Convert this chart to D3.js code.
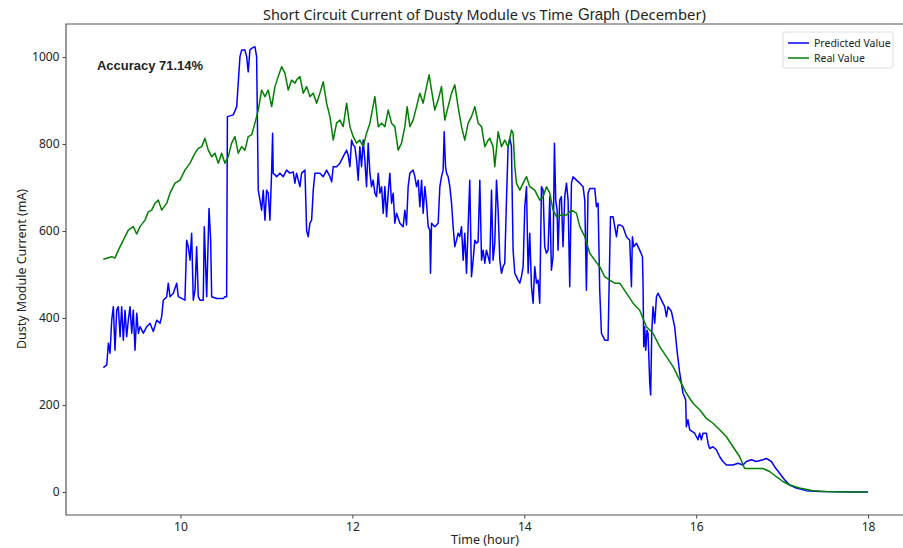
<!DOCTYPE html>
<html>
<head>
<meta charset="utf-8">
<script src="https://cdn.jsdelivr.net/npm/d3@7"></script>
<style>
  body { margin: 0; background: #fff; }
  svg text { font-family: "Noto Sans", "DejaVu Sans", sans-serif; fill: #222; }
</style>
</head>
<body>
<div id="chart"></div>
<script>
// real (measured) short circuit current
const realHours = [9.102, 9.200, 9.238, 9.277, 9.355, 9.393, 9.451, 9.491, 9.529, 9.587, 9.626, 9.665, 9.704, 9.742, 9.781, 9.840, 9.878, 9.936, 9.994,
  10.052, 10.111, 10.169, 10.207, 10.247, 10.285, 10.323, 10.363, 10.401, 10.440, 10.479, 10.517, 10.556, 10.595, 10.634, 10.672, 10.712, 10.750, 10.788, 10.828, 10.866, 10.905, 10.944, 10.983,
  11.021, 11.061, 11.099, 11.137, 11.177, 11.215, 11.254, 11.293, 11.331, 11.351, 11.390, 11.428, 11.468, 11.506, 11.545, 11.584, 11.622, 11.661, 11.700, 11.739, 11.777, 11.816, 11.855, 11.893, 11.933, 11.971,
  12.010, 12.049, 12.087, 12.126, 12.165, 12.204, 12.262, 12.301, 12.340, 12.378, 12.417, 12.456, 12.494, 12.533, 12.572, 12.611, 12.637, 12.669, 12.707, 12.747, 12.785, 12.824, 12.863, 12.893, 12.921, 12.959, 12.998,
  13.037, 13.076, 13.114, 13.154, 13.192, 13.230, 13.270, 13.308, 13.347, 13.386, 13.425, 13.463, 13.503, 13.541, 13.580, 13.599, 13.637, 13.657, 13.696, 13.735, 13.773, 13.812, 13.851, 13.870, 13.890, 13.909, 13.948, 13.987,
  14.026, 14.064, 14.122, 14.180, 14.219, 14.258, 14.297, 14.335, 14.374, 14.432, 14.491, 14.549, 14.607, 14.646, 14.704, 14.762, 14.820, 14.878, 14.936, 14.994,
  15.053, 15.111, 15.189, 15.266, 15.343, 15.421, 15.498, 15.576, 15.654, 15.731, 15.809, 15.886, 15.964,
  16.041, 16.119, 16.196, 16.274, 16.352, 16.429, 16.506, 16.564, 16.661, 16.777, 16.855, 16.933,
  17.010, 17.088, 17.204, 17.359, 17.514, 17.825, 18.000];
const realValues = [535, 541, 538, 556, 587, 602, 610, 593, 610, 625, 644, 648, 664, 671, 648, 664, 687, 710, 717,
  740, 756, 779, 790, 794, 813, 786, 771, 779, 756, 779, 756, 771, 802, 817, 779, 794, 786, 817, 821, 848, 878, 924, 909,
  924, 886, 932, 955, 978, 963, 924, 947, 940, 947, 955, 917, 932, 909, 917, 894, 917, 943, 894, 863, 809, 848, 855, 840, 894, 840,
  817, 802, 809, 794, 825, 848, 909, 840, 848, 840, 878, 848, 840, 786, 802, 840, 886, 840, 855, 886, 917, 894, 932, 959, 924, 878, 901,
  932, 855, 886, 917, 936, 886, 840, 809, 848, 863, 886, 848, 840, 794, 809, 813, 794, 748, 828, 794, 809, 794, 832, 825, 748, 710, 694, 710,
  725, 702, 694, 671, 679, 702, 687, 648, 633, 637, 637, 648, 641, 610, 587, 549, 533, 518, 495, 487,
  480, 480, 457, 434, 418, 380, 365, 334, 311, 288, 257, 227, 204,
  189, 169, 158, 143, 127, 104, 81, 54, 54, 54, 47, 35,
  24, 16, 9, 3, 1, 0, 0];

// predicted current
const predHours = [9.102, 9.142, 9.161, 9.180, 9.200, 9.219, 9.238, 9.258, 9.277, 9.297, 9.316, 9.335, 9.355, 9.374, 9.393, 9.413, 9.433, 9.451, 9.471, 9.491, 9.510, 9.529, 9.568, 9.607, 9.645, 9.684, 9.723, 9.762, 9.781, 9.800, 9.840, 9.858, 9.878, 9.917, 9.956, 9.975,
  10.014, 10.052, 10.072, 10.091, 10.111, 10.130, 10.149, 10.169, 10.188, 10.207, 10.227, 10.265, 10.277, 10.305, 10.332, 10.351, 10.363, 10.421, 10.498, 10.517, 10.537, 10.546, 10.614, 10.654, 10.692, 10.712, 10.750, 10.770, 10.788, 10.808, 10.828, 10.866, 10.886, 10.905, 10.925, 10.944, 10.963, 10.983,
  11.002, 11.021, 11.041, 11.061, 11.072, 11.079, 11.119, 11.157, 11.196, 11.235, 11.273, 11.312, 11.331, 11.351, 11.390, 11.409, 11.448, 11.468, 11.486, 11.506, 11.526, 11.545, 11.564, 11.622, 11.661, 11.700, 11.739, 11.759, 11.777, 11.816, 11.855, 11.893, 11.933, 11.951, 11.971, 11.991,
  12.010, 12.029, 12.049, 12.068, 12.087, 12.107, 12.126, 12.145, 12.165, 12.184, 12.204, 12.223, 12.242, 12.262, 12.281, 12.301, 12.320, 12.340, 12.359, 12.378, 12.398, 12.417, 12.436, 12.456, 12.475, 12.494, 12.514, 12.553, 12.591, 12.611, 12.630, 12.649, 12.669, 12.707, 12.727, 12.747, 12.766, 12.785, 12.805, 12.824, 12.843, 12.863, 12.882, 12.901, 12.909, 12.921, 12.959, 12.998,
  13.018, 13.037, 13.056, 13.068, 13.084, 13.096, 13.114, 13.134, 13.154, 13.172, 13.192, 13.212, 13.230, 13.250, 13.270, 13.289, 13.308, 13.328, 13.347, 13.366, 13.386, 13.405, 13.425, 13.444, 13.463, 13.483, 13.503, 13.521, 13.541, 13.560, 13.580, 13.599, 13.619, 13.637, 13.657, 13.677, 13.696, 13.716, 13.735, 13.754, 13.773, 13.793, 13.812, 13.832, 13.851, 13.870, 13.890, 13.909, 13.928, 13.948, 13.967, 13.987,
  14.006, 14.026, 14.045, 14.064, 14.084, 14.103, 14.122, 14.142, 14.161, 14.180, 14.200, 14.219, 14.238, 14.258, 14.277, 14.297, 14.316, 14.335, 14.351, 14.366, 14.382, 14.393, 14.413, 14.432, 14.451, 14.471, 14.491, 14.510, 14.529, 14.549, 14.568, 14.607, 14.646, 14.684, 14.704, 14.723, 14.742, 14.762, 14.820, 14.840, 14.859, 14.878, 14.898, 14.936, 14.975,
  15.003, 15.033, 15.073, 15.091, 15.111, 15.149, 15.189, 15.227, 15.247, 15.258, 15.273, 15.305, 15.343, 15.375, 15.382, 15.390, 15.401, 15.413, 15.428, 15.440, 15.460, 15.471, 15.483, 15.498, 15.518, 15.538, 15.556, 15.596, 15.634, 15.654, 15.673, 15.712, 15.750, 15.777, 15.809, 15.847, 15.878, 15.886, 15.905, 15.925, 15.983,
  16.021, 16.041, 16.061, 16.080, 16.119, 16.138, 16.157, 16.196, 16.235, 16.274, 16.312, 16.352, 16.429, 16.487, 16.545, 16.584, 16.642, 16.700, 16.777, 16.817, 16.875, 16.913, 16.971,
  17.029, 17.088, 17.165, 17.281, 17.436, 17.825, 18.000];
const predValues = [286, 292, 342, 319, 395, 426, 326, 418, 426, 357, 426, 349, 418, 357, 395, 426, 365, 418, 326, 411, 365, 380, 365, 380, 388, 369, 395, 388, 403, 441, 449, 480, 449, 457, 480, 449,
  445, 441, 579, 564, 533, 595, 441, 464, 564, 449, 441, 441, 610, 449, 652, 579, 449, 445, 445, 449, 449, 863, 867, 886, 1001, 1016, 1016, 1001, 966, 1016, 1020, 1024, 1001, 694, 671, 648, 694, 625,
  694, 687, 625, 740, 825, 733, 725, 733, 725, 740, 733, 736, 710, 733, 702, 733, 740, 600, 587, 618, 625, 694, 733, 733, 725, 740, 725, 713, 748, 748, 756, 771, 786, 775, 748, 809,
  798, 794, 763, 717, 794, 748, 809, 763, 702, 802, 733, 702, 717, 687, 679, 733, 687, 702, 641, 702, 633, 687, 733, 664, 687, 618, 641, 618, 610, 648, 614, 702, 733, 740, 725, 702, 717, 656, 717, 641, 702, 664, 610, 602, 503, 618, 610, 618,
  702, 725, 740, 828, 748, 733, 725, 702, 664, 610, 564, 579, 595, 587, 610, 533, 595, 503, 610, 717, 495, 533, 579, 572, 575, 717, 533, 556, 526, 556, 541, 526, 694, 533, 572, 717, 648, 533, 503, 518, 526, 671, 794, 813, 794, 556, 503, 495, 487, 480, 495, 518,
  656, 702, 503, 595, 472, 434, 518, 480, 487, 434, 702, 694, 564, 549, 556, 679, 510, 541, 802, 671, 648, 556, 671, 679, 564, 679, 710, 671, 472, 710, 725, 717, 710, 702, 671, 464, 687, 698, 698, 656, 664, 464, 365, 349, 349,
  633, 633, 587, 614, 614, 610, 587, 579, 472, 587, 564, 572, 556, 541, 480, 334, 380, 326, 372, 365, 250, 223, 365, 426, 388, 449, 457, 441, 426, 403, 426, 415, 380, 326, 273, 227, 212, 150, 166, 143, 135,
  120, 135, 120, 135, 135, 112, 100, 104, 97, 81, 70, 62, 62, 66, 62, 70, 74, 70, 74, 77, 70, 58, 43,
  28, 16, 9, 3, 1, 0, 0];

const yTicks = [0, 200, 400, 600, 800, 1000];
const xTicks = [10, 12, 14, 16, 18];
const seriesNames = ["Predicted Value", "Real Value"];
const seriesColors = ["#0000ff", "#008000"];

const width = 903, height = 548;
const plot = {left: 66, right: 905, top: 24, bottom: 515};

const svg = d3.select("#chart")
    .append("svg")
    .attr("width", width)
    .attr("height", height);

let x = d3.scaleLinear()
    .domain([8.668, 18.43])
    .range([plot.left, plot.right]);

let y = d3.scaleLinear()
    .domain([-53, 1076])
    .range([plot.bottom, plot.top]);

svg.append("clipPath")
    .attr("id", "clip")
    .append("rect")
    .attr("x", plot.left)
    .attr("y", plot.top)
    .attr("width", plot.right - plot.left)
    .attr("height", plot.bottom - plot.top);

// lines
const line = d3.line()
    .x(d => x(d[0]))
    .y(d => y(d[1]));

const pred = predHours.map((h, i) => [h, predValues[i]]);
const real = realHours.map((h, i) => [h, realValues[i]]);

svg.append("g").attr("clip-path", "url(#clip)")
    .selectAll("path")
    .data([pred, real])
    .enter()
    .append("path")
    .attr("d", line)
    .attr("fill", "none")
    .attr("stroke", (d, i) => seriesColors[i])
    .attr("stroke-width", 1.5)
    .attr("stroke-linejoin", "round");

// axes
svg.append("g")
    .attr("transform", `translate(${plot.left},0)`)
    .call(d3.axisLeft(y).tickValues(yTicks).tickFormat(d3.format("d")).tickSize(3.5).tickSizeOuter(0).tickPadding(3))
    .call(g => g.select(".domain").remove())
    .call(g => g.selectAll("line").attr("stroke", "#444"))
    .call(g => g.selectAll("text").style("font-size", "12px").attr("fill", "#222"));

svg.append("g")
    .attr("transform", `translate(0,${plot.bottom})`)
    .call(d3.axisBottom(x).tickValues(xTicks).tickSize(3.5).tickSizeOuter(0).tickPadding(4))
    .call(g => g.select(".domain").remove())
    .call(g => g.selectAll("line").attr("stroke", "#444"))
    .call(g => g.selectAll("text").style("font-size", "12px").attr("fill", "#222"));

// spines (right one sits past the edge)
svg.append("path")
    .attr("d", `M${plot.right},${plot.top}H${plot.left}V${plot.bottom}H${plot.right}`)
    .attr("fill", "none")
    .attr("stroke", "#555")
    .attr("stroke-width", 1.2);

// title, in three pieces
svg.append("text")
    .attr("x", 263).attr("y", 20)
    .attr("textLength", 310).attr("lengthAdjust", "spacingAndGlyphs")
    .style("font-size", "14px")
    .text("Short Circuit Current of Dusty Module vs Time");
svg.append("text")
    .attr("x", 578).attr("y", 20)
    .attr("textLength", 42).attr("lengthAdjust", "spacingAndGlyphs")
    .style("font-family", "'Liberation Sans', Arial, sans-serif")
    .style("font-size", "17px")
    .text("Graph");
svg.append("text")
    .attr("x", 625).attr("y", 20)
    .attr("textLength", 81).attr("lengthAdjust", "spacingAndGlyphs")
    .style("font-size", "14px")
    .text("(December)");

// axis labels
svg.append("text")
    .attr("x", 485).attr("y", 544)
    .attr("text-anchor", "middle")
    .style("font-size", "12.5px")
    .text("Time (hour)");

svg.append("text")
    .attr("transform", "translate(26,269) rotate(-90)")
    .attr("text-anchor", "middle")
    .style("font-size", "12.5px")
    .text("Dusty Module Current (mA)");

// accuracy note
svg.append("text")
    .attr("x", 97).attr("y", 70)
    .attr("textLength", 106).attr("lengthAdjust", "spacingAndGlyphs")
    .style("font-family", "'Liberation Sans', Arial, sans-serif")
    .style("font-weight", "bold")
    .style("font-size", "13.5px")
    .attr("fill", "#111")
    .text("Accuracy 71.14%");

// legend
const legend = svg.append("g");
legend.append("rect")
    .attr("x", 783).attr("y", 32)
    .attr("width", 110).attr("height", 36)
    .attr("rx", 2)
    .attr("fill", "#fff")
    .attr("stroke", "#ddd");

legend.selectAll("line")
    .data(seriesNames)
    .enter()
    .append("line")
    .attr("x1", 788).attr("x2", 809)
    .attr("y1", (d, i) => 43 + i * 15)
    .attr("y2", (d, i) => 43 + i * 15)
    .attr("stroke", (d, i) => seriesColors[i])
    .attr("stroke-width", 1.5);

legend.selectAll(".lbl")
    .data(seriesNames)
    .enter()
    .append("text")
    .attr("class", "lbl")
    .attr("x", 814)
    .attr("y", (d, i) => 47 + i * 15)
    .style("font-size", "10.5px")
    .text(d => d);
</script>
</body>
</html>
